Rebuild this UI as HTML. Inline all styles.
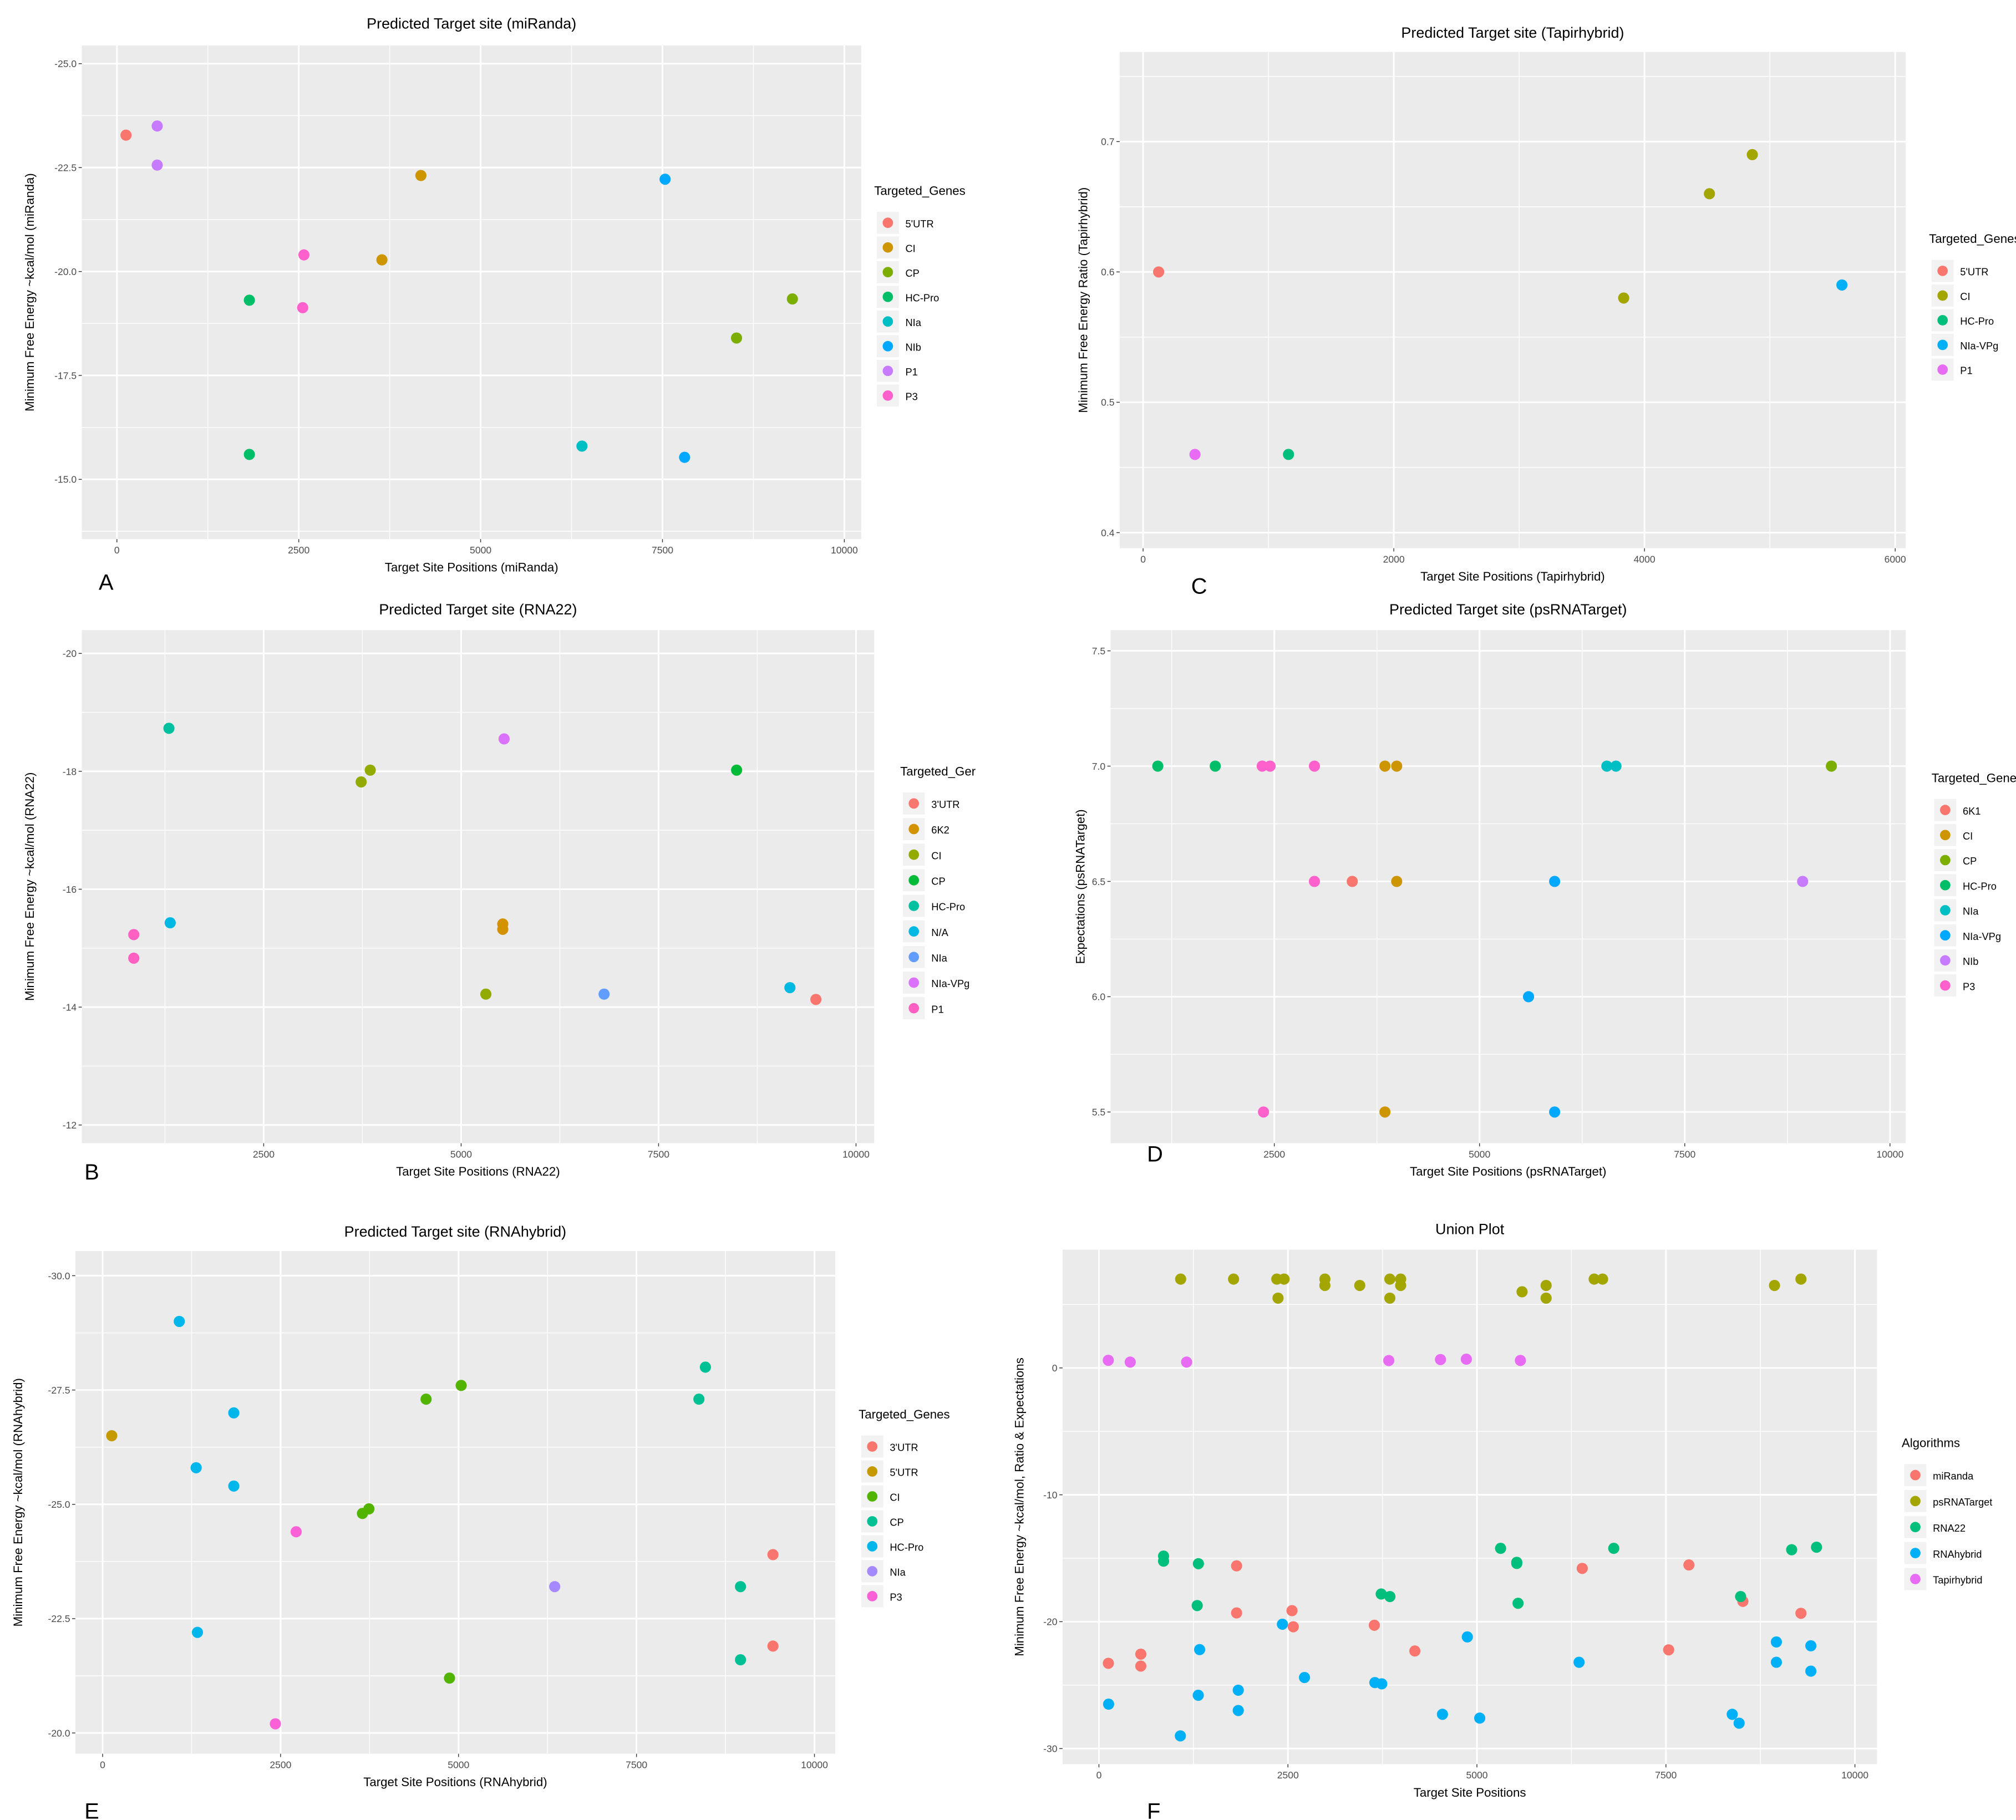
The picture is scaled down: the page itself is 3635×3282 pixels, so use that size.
<!DOCTYPE html>
<html><head><meta charset="utf-8"><style>
html,body{margin:0;padding:0;background:#fff;}
svg{display:block;}
text{font-family:"Liberation Sans",sans-serif;}
</style></head><body>
<svg id="fig" xmlns="http://www.w3.org/2000/svg" width="3635" height="3282" viewBox="0 0 1552 1401" preserveAspectRatio="none"></svg>
<script>
// ---------- Panel A (miRanda) ----------
const aGenes=["5'UTR","CI","CP","HC-Pro","NIa","NIb","P1","P3"];
const aX=[125,554,554,4179,3643,7536,7804,1821,1821,2571,2554,8518,9286,6393];
const aY=[-23.28,-23.5,-22.56,-22.31,-20.28,-22.22,-15.53,-19.31,-15.6,-20.4,-19.13,-18.4,-19.34,-15.8];
const aG=[0,6,6,1,1,5,5,3,3,7,7,2,2,4];
const aXTicks=[0,2500,5000,7500,10000];
const aYTicks=[-25,-22.5,-20,-17.5,-15];
const aYLabels=["-25.0","-22.5","-20.0","-17.5","-15.0"];
// ---------- Panel C (Tapirhybrid) ----------
const cGenes=["5'UTR","CI","HC-Pro","NIa-VPg","P1"];
const cX=[124,3834,4518,4860,1160,5575,414];
const cY=[0.6,0.58,0.66,0.69,0.46,0.59,0.46];
const cG=[0,1,1,1,2,3,4];
const cXTicks=[0,2000,4000,6000];
const cYTicks=[0.4,0.5,0.6,0.7];
const cYLabels=["0.4","0.5","0.6","0.7"];
// ---------- Panel B (RNA22) ----------
const bGenes=["3'UTR","6K2","CI","CP","HC-Pro","N/A","NIa","NIa-VPg","P1"];
const bX=[1300,3734,3849,5544,8488,1316,9163,855,855,5527,5527,5313,6810,9492];
const bY=[-18.73,-17.82,-18.02,-18.55,-18.02,-15.43,-14.33,-15.23,-14.83,-15.41,-15.32,-14.22,-14.22,-14.13];
const bG=[4,2,2,7,3,5,5,8,8,1,1,2,6,0];
const bXTicks=[2500,5000,7500,10000];
const bYTicks=[-20,-18,-16,-14,-12];
const bYLabels=["-20","-18","-16","-14","-12"];
// ---------- Panel D (psRNATarget) ----------
const dGenes=["6K1","CI","CP","HC-Pro","NIa","NIa-VPg","NIb","P3"];
const dX=[1081,1781,2353,2449,2989,2989,2369,3848,3991,3991,3848,6551,6662,9286,3450,5915,5597,5915,8936];
const dY=[7,7,7,7,7,6.5,5.5,7,7,6.5,5.5,7,7,7,6.5,6.5,6,5.5,6.5];
const dG=[3,3,7,7,7,7,7,1,1,1,1,4,4,2,0,5,5,5,6];
const dXTicks=[2500,5000,7500,10000];
const dYTicks=[5.5,6,6.5,7,7.5];
const dYLabels=["5.5","6.0","6.5","7.0","7.5"];
// ---------- Panel E (RNAhybrid) ----------
const eGenes=["3'UTR","5'UTR","CI","CP","HC-Pro","NIa","P3"];
const eX=[1077,1843,1314,1843,1332,128,4544,5037,3650,3741,4873,8468,8377,8961,8961,2719,2427,6351,9417,9417];
const eY=[-29.0,-27.0,-25.8,-25.4,-22.2,-26.5,-27.3,-27.6,-24.8,-24.9,-21.2,-28.0,-27.3,-23.2,-21.6,-24.4,-20.2,-23.2,-23.9,-21.9];
const eG=[4,4,4,4,4,1,2,2,2,2,2,3,3,3,3,6,6,5,0,0];
const eXTicks=[0,2500,5000,7500,10000];
const eYTicks=[-30,-27.5,-25,-22.5,-20];
const eYLabels=["-30.0","-27.5","-25.0","-22.5","-20.0"];
// ---------- Panel F (Union) ----------
const fAlgs=["miRanda","psRNATarget","RNA22","RNAhybrid","Tapirhybrid"];
const fX=[
125,554,554,4179,3643,7536,7804,1821,1821,2571,2554,8518,9286,6393,
1081,1781,2353,2449,2989,2989,2369,3848,3991,3991,3848,6551,6662,9286,3450,5915,5597,5915,8936,
1300,3734,3849,5544,8488,1316,9163,855,855,5527,5527,5313,6810,9492,
1077,1843,1314,1843,1332,128,4544,5037,3650,3741,4873,8468,8377,8961,8961,2719,2427,6351,9417,9417,
124,3834,4518,4860,1160,5575,414];
const fY=[
-23.28,-23.5,-22.56,-22.31,-20.28,-22.22,-15.53,-19.31,-15.6,-20.4,-19.13,-18.4,-19.34,-15.8,
7,7,7,7,7,6.5,5.5,7,7,6.5,5.5,7,7,7,6.5,6.5,6,5.5,6.5,
-18.73,-17.82,-18.02,-18.55,-18.02,-15.43,-14.33,-15.23,-14.83,-15.41,-15.32,-14.22,-14.22,-14.13,
-29.0,-27.0,-25.8,-25.4,-22.2,-26.5,-27.3,-27.6,-24.8,-24.9,-21.2,-28.0,-27.3,-23.2,-21.6,-24.4,-20.2,-23.2,-23.9,-21.9,
0.6,0.58,0.66,0.69,0.46,0.59,0.46];
const fG=[0,0,0,0,0,0,0,0,0,0,0,0,0,0,
1,1,1,1,1,1,1,1,1,1,1,1,1,1,1,1,1,1,1,
2,2,2,2,2,2,2,2,2,2,2,2,2,2,
3,3,3,3,3,3,3,3,3,3,3,3,3,3,3,3,3,3,3,3,
4,4,4,4,4,4,4];
const fXTicks=[0,2500,5000,7500,10000];
const fYTicks=[-30,-20,-10,0];
const fYLabels=["-30","-20","-10","0"];

const pal={
5:["#F8766D","#A3A500","#00BF7D","#00B0F6","#E76BF3"],
7:["#F8766D","#C49A00","#53B400","#00C094","#00B6EB","#A58AFF","#FB61D7"],
8:["#F8766D","#CD9600","#7CAE00","#00BE67","#00BFC4","#00A9FF","#C77CFF","#FF61CC"],
9:["#F8766D","#D39200","#93AA00","#00BA38","#00C19F","#00B9E3","#619CFF","#DB72FB","#FF61C3"]};

const svg=document.getElementById('fig');
const NS="http://www.w3.org/2000/svg";
function mk(tag,attrs,parent,txt){const e=document.createElementNS(NS,tag);for(const k in attrs)e.setAttribute(k,attrs[k]);if(txt!==undefined)e.textContent=txt;(parent||svg).appendChild(e);return e;}

function panel(cfg){
  const g=mk('g',{});
  
  
  const [x0,y0,x1,y1]=cfg.box;
  const sx=v=>cfg.xm[1]+(v-cfg.xm[0])*(cfg.xm[3]-cfg.xm[1])/(cfg.xm[2]-cfg.xm[0]);
  const sy=v=>cfg.ym[1]+(v-cfg.ym[0])*(cfg.ym[3]-cfg.ym[1])/(cfg.ym[2]-cfg.ym[0]);
  const bg=mk('rect',{x:x0,y:y0,width:x1-x0,height:y1-y0,fill:'#EBEBEB'},g);
  
  
  // minor grid
  const xs=cfg.xTicks[1]-cfg.xTicks[0], ys=cfg.yTicks[1]-cfg.yTicks[0];
  for(let k=-40;k<=40;k++){
    const v=cfg.xTicks[0]+k*xs/2;const p=sx(v);
    if(p>x0&&p<x1) mk('line',{x1:p,x2:p,y1:y0,y2:y1,stroke:'#fff','stroke-width':k%2?0.6:1.3},g);
    const w=cfg.yTicks[0]+k*ys/2;const q=sy(w);
    if(q>y0&&q<y1) mk('line',{x1:x0,x2:x1,y1:q,y2:q,stroke:'#fff','stroke-width':k%2?0.6:1.3},g);
  }
  cfg.xTicks.forEach((v,i)=>{const p=sx(v);
    mk('line',{x1:p,x2:p,y1:y1,y2:y1+2.5,stroke:'#333','stroke-width':0.6},g);
    const t=mk('text',{x:p,y:y1+11,'font-size':7.5,fill:'#4D4D4D','text-anchor':'middle'},g,String(v));
    
    });
  cfg.yTicks.forEach((v,i)=>{const q=sy(v);
    mk('line',{x1:x0-2.5,x2:x0,y1:q,y2:q,stroke:'#333','stroke-width':0.6},g);
    const t=mk('text',{x:x0-4,y:q+2.7,'font-size':7.5,fill:'#4D4D4D','text-anchor':'end'},g,cfg.yLabels[i]);
    
    });
  // points
  cfg.px.forEach((v,i)=>{
    const c=mk('circle',{cx:sx(v),cy:sy(cfg.py[i]),r:4.3,fill:cfg.colors[cfg.pg[i]]},g);
    
    
  });
  const tt=mk('text',{x:(x0+x1)/2,y:cfg.titleY,'font-size':11.5,fill:'#000','text-anchor':'middle'},g,cfg.title);
  
  
  const xt=mk('text',{x:(x0+x1)/2,y:y1+25,'font-size':9.5,fill:'#000','text-anchor':'middle'},g,cfg.xTitle);
  
  
  const yt=mk('text',{x:0,y:0,'font-size':9.5,fill:'#000','text-anchor':'middle',transform:`translate(${cfg.yTitleX},${(y0+y1)/2}) rotate(-90)`},g,cfg.yTitle);
  
  
  // legend
  const lt=mk('text',{x:cfg.leg[0],y:cfg.leg[1],'font-size':9.5,fill:'#000'},g,cfg.legTitle);
  
  
  cfg.cats.forEach((c,i)=>{
    const yy=cfg.leg[1]+22+i*cfg.leg[2];
    mk('rect',{x:cfg.leg[0]+2,y:yy-9,width:17,height:17,fill:'#F2F2F2'},g);
    const d=mk('circle',{cx:cfg.leg[0]+10.5,cy:yy-0.5,r:4,fill:cfg.colors[i]},g);
    
    
    const t=mk('text',{x:cfg.leg[0]+24,y:yy+3,'font-size':7.8,fill:'#000'},g,c);
    
    
  });
  const L=mk('text',{x:cfg.letter[0],y:cfg.letter[1],'font-size':17,fill:'#000','font-family':'Liberation Serif'},g,cfg.letterT);
  
  
}

panel({name:'panel-a',box:[63,35,663,415],xm:[0,90,2500,230],ym:[-25,49,-15,369],xTicks:aXTicks,yTicks:aYTicks,yLabels:aYLabels,
 px:aX,py:aY,pg:aG,cats:aGenes,colors:pal[8],title:'Predicted Target site (miRanda)',titleY:22,xTitle:'Target Site Positions (miRanda)',
 yTitle:'Minimum Free Energy ~kcal/mol (miRanda)',yTitleX:26,legTitle:'Targeted_Genes',leg:[673,150,19],letter:[76,454],letterT:'A'});
panel({name:'panel-c',box:[862,40,1467,422],xm:[0,880,2000,1073],ym:[0.7,109,0.4,410],xTicks:cXTicks,yTicks:cYTicks,yLabels:cYLabels,
 px:cX,py:cY,pg:cG,cats:cGenes,colors:pal[5],title:'Predicted Target site (Tapirhybrid)',titleY:29,xTitle:'Target Site Positions (Tapirhybrid)',
 yTitle:'Minimum Free Energy Ratio (Tapirhybrid)',yTitleX:837,legTitle:'Targeted_Genes',leg:[1485,187,19],letter:[917,457],letterT:'C'});
panel({name:'panel-b',box:[63,485,673,880],xm:[2500,203,5000,355],ym:[-20,503,-12,866],xTicks:bXTicks,yTicks:bYTicks,yLabels:bYLabels,
 px:bX,py:bY,pg:bG,cats:bGenes,colors:pal[9],title:'Predicted Target site (RNA22)',titleY:473,xTitle:'Target Site Positions (RNA22)',
 yTitle:'Minimum Free Energy ~kcal/mol (RNA22)',yTitleX:26,legTitle:'Targeted_Ger',leg:[693,597,19.7],letter:[65,908],letterT:'B'});
panel({name:'panel-d',box:[855,485,1467,880],xm:[2500,981,5000,1139],ym:[7.5,501,5.5,856],xTicks:dXTicks,yTicks:dYTicks,yLabels:dYLabels,
 px:dX,py:dY,pg:dG,cats:dGenes,colors:pal[8],title:'Predicted Target site (psRNATarget)',titleY:473,xTitle:'Target Site Positions (psRNATarget)',
 yTitle:'Expectations (psRNATarget)',yTitleX:835,legTitle:'Targeted_Genes',leg:[1487,602,19.3],letter:[883,894],letterT:'D'});
panel({name:'panel-e',box:[58,963,643,1350],xm:[0,79,2500,216],ym:[-30,982,-20,1334],xTicks:eXTicks,yTicks:eYTicks,yLabels:eYLabels,
 px:eX,py:eY,pg:eG,cats:eGenes,colors:pal[7],title:'Predicted Target site (RNAhybrid)',titleY:952,xTitle:'Target Site Positions (RNAhybrid)',
 yTitle:'Minimum Free Energy ~kcal/mol (RNAhybrid)',yTitleX:17,legTitle:'Targeted_Genes',leg:[661,1092,19.2],letter:[65,1400],letterT:'E'});
panel({name:'panel-f',box:[818,962,1445,1358],xm:[0,846,2500,991.5],ym:[0,1053,-30,1346],xTicks:fXTicks,yTicks:fYTicks,yLabels:fYLabels,
 px:fX,py:fY,pg:fG,cats:fAlgs,colors:pal[5],title:'Union Plot',titleY:950,xTitle:'Target Site Positions',
 yTitle:'Minimum Free Energy ~kcal/mol, Ratio & Expectations',yTitleX:788,legTitle:'Algorithms',leg:[1464,1114,20],letter:[883,1400],letterT:'F'});
</script>
</body></html>
